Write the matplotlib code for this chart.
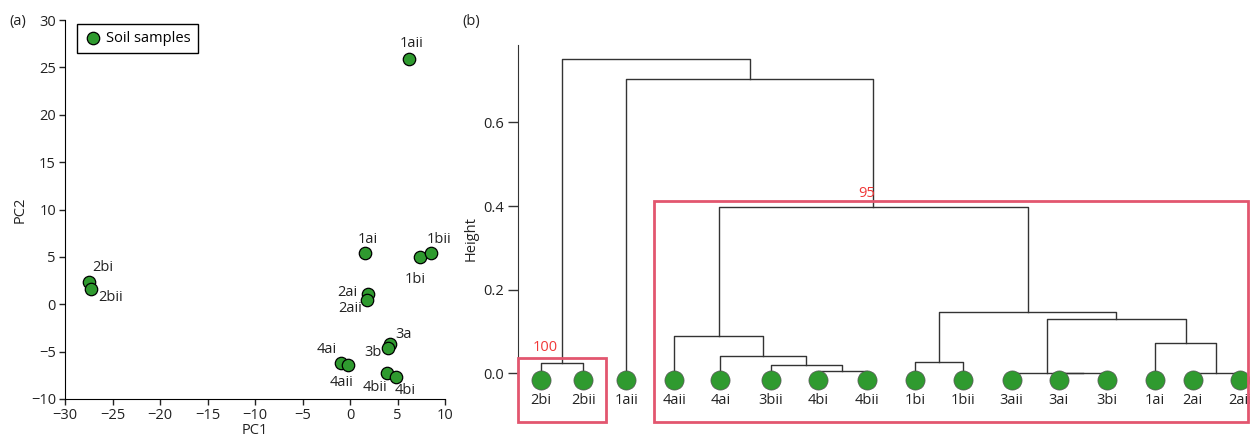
import matplotlib
matplotlib.use('Agg')
import matplotlib.pyplot as plt
from matplotlib.patches import Rectangle

plt.rcParams['font.family'] = ['Open Sans', 'DejaVu Sans']
plt.rcParams['font.size'] = 10.5

# ---- PCA scores (panel a)
samples = ['1aii', '1ai', '1bi', '1bii', '2bi', '2bii', '2ai', '2aii',
           '3a', '3b', '4ai', '4aii', '4bii', '4bi']
pc1 = [6.2, 1.6, 7.4, 8.5, -27.5, -27.3, 1.9, 1.8, 4.2, 4.0, -1.0, -0.2, 3.9, 4.8]
pc2 = [25.9, 5.4, 4.95, 5.4, 2.4, 1.6, 1.1, 0.4, -4.2, -4.65, -6.2, -6.45, -7.3, -7.65]
# label offsets in points (dx, dy)
label_off = [(2, 11), (2, 10), (-4, -16), (6, 10), (10, 10), (14, -6), (-15, 1), (-12, -6),
             (10, 7), (-11, -3), (-10, 10), (-5, -12), (-9, -10), (7, -10)]

# ---- dendrogram (panel b)
leaves = ['2bi', '2bii', '1aii', '4aii', '4ai', '3bii', '4bi', '4bii',
          '1bi', '1bii', '3aii', '3ai', '3bi', '1ai', '2ai', '2aii']
leaf_pos = [0, 0.91, 1.84, 2.86, 3.85, 4.93, 5.95, 6.99,
            8.03, 9.06, 10.1, 11.11, 12.14, 13.17, 13.98, 15.0]
# merges: (left id, right id, height); ids >= 16 are earlier merges
merges = [(6, 7, 0.0055), (5, 16, 0.020), (4, 17, 0.042), (3, 18, 0.090),
          (11, 12, 0.001), (10, 20, 0.002), (14, 15, 0.001), (13, 22, 0.072),
          (21, 23, 0.129), (8, 9, 0.028), (25, 24, 0.147), (19, 26, 0.398),
          (0, 1, 0.025), (2, 27, 0.703), (28, 29, 0.751)]
bootstrap = [('100', 0, 1, 0.037), ('95', 3, 15, 0.412)]

green = '#2f9a2f'
pink = '#e2566f'

fig = plt.figure(figsize=(12.5, 4.37), dpi=100)

# ---------------- panel (a)
ax1 = fig.add_axes([0.052, 0.087, 0.304, 0.867])
ax1.scatter(pc1, pc2, s=80, color=green, edgecolor='black', linewidth=0.9,
            zorder=3, label='Soil samples')
for name, x, y, (dx, dy) in zip(samples, pc1, pc2, label_off):
    ax1.annotate(name, (x, y), xytext=(dx, dy), textcoords='offset points',
                 ha='center', va='center', color='#222222')
ax1.set_xlim(-30, 10)
ax1.set_ylim(-10, 30)
ax1.set_xticks(range(-30, 11, 5))
ax1.set_yticks(range(-10, 31, 5))
ax1.spines['top'].set_visible(False)
ax1.spines['right'].set_visible(False)
ax1.tick_params(length=4.5, width=1, color='#222222', labelcolor='#222222', pad=2)
ax1.set_xlabel('PC1', labelpad=0, color='#222222')
ax1.set_ylabel('PC2', labelpad=2, color='#222222')
leg = ax1.legend(loc='upper left', bbox_to_anchor=(0.032, 0.99), borderaxespad=0,
                 fancybox=False, edgecolor='black', framealpha=1,
                 handletextpad=0.3, handlelength=1.2, borderpad=0.5)
leg.get_frame().set_linewidth(1)
fig.text(0.0144, 0.95, '(a)', color='#222222', ha='center', va='center')

# ---------------- panel (b)
ax2 = fig.add_axes([0.4146, 0.0, 0.5854, 0.9085])
n = len(leaves)
node_x = list(leaf_pos)
node_h = [0.0] * n
for a, b, h in merges:
    xa, xb = node_x[a], node_x[b]
    ax2.plot([xa, xa, xb, xb], [node_h[a], h, h, node_h[b]],
             color='#333333', lw=1, zorder=2)
    node_x.append((xa + xb) / 2)
    node_h.append(h)

ax2.scatter(leaf_pos, [-0.016] * n, s=190, color=green, edgecolor='#555555',
            linewidth=0.5, zorder=3)
for name, x in zip(leaves, leaf_pos):
    ax2.text(x, -0.064, name, ha='center', va='center', color='#222222')

for lab, i0, i1, top in bootstrap:
    x0 = leaf_pos[i0] - 0.48 if i0 == 0 else leaf_pos[i0] - 0.43
    x1 = leaf_pos[i1] + 0.5 if i1 == 1 else leaf_pos[i1] + 0.17
    r = Rectangle((x0, -0.117), x1 - x0, top + 0.117, fill=False,
                  edgecolor=pink, lw=2, zorder=4, clip_on=False)
    ax2.add_patch(r)

ax2.text(leaf_pos[0] + 0.1, 0.062, '100', color='#f03838', ha='center', va='center')
ax2.text(7.0, 0.43, '95', color='#f03838', ha='center', va='center')

ax2.set_xlim(-0.48, 15.21)
ax2.set_ylim(-0.152, 0.797)
for s in ['top', 'right', 'bottom']:
    ax2.spines[s].set_visible(False)
ax2.spines['left'].set_bounds(0, 0.785)
ax2.spines['left'].set_color('#333333')
ax2.set_xticks([])
ax2.set_yticks([0.0, 0.2, 0.4, 0.6])
ax2.set_yticklabels(['0.0', '0.2', '0.4', '0.6'])
ax2.tick_params(length=7, width=1, color='#333333', labelcolor='#222222')
ax2.set_ylabel('Height', color='#222222', labelpad=3)
fig.text(0.377, 0.95, '(b)', color='#222222', ha='center', va='center')

fig.savefig('out.png', dpi=100)
